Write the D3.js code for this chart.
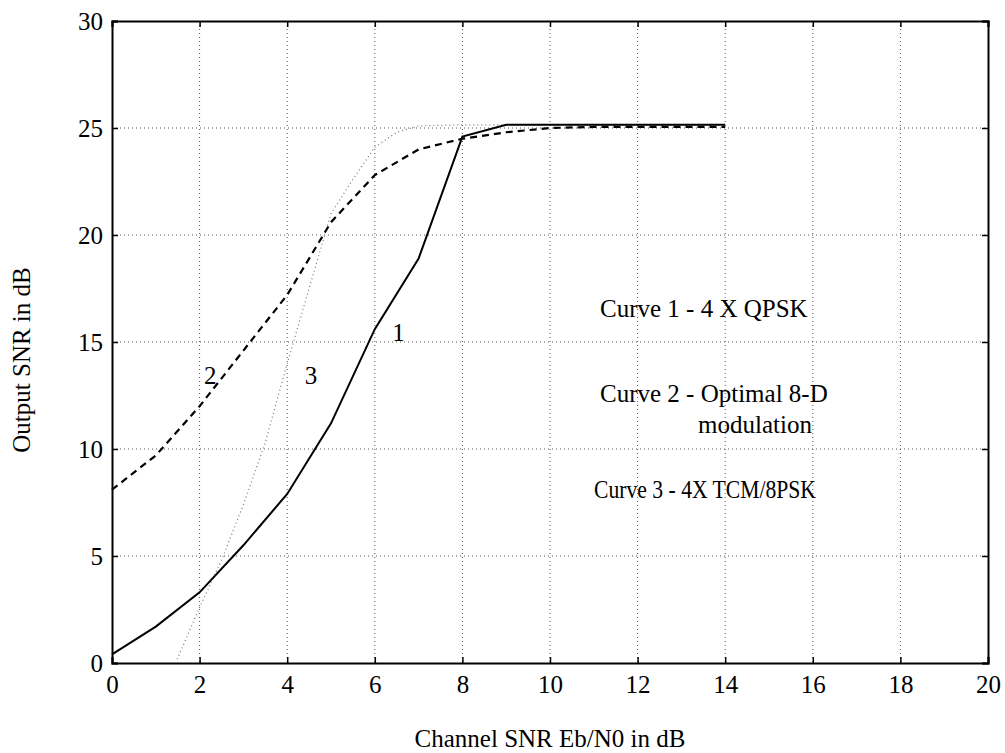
<!DOCTYPE html>
<html><head><meta charset="utf-8">
<script src="https://cdn.jsdelivr.net/npm/d3@7"></script>
<style>
body{margin:0;background:#fff;}
text{font-family:"Liberation Serif","Times New Roman",serif;fill:#000;}
</style></head><body>
<svg id="chart" width="1005" height="753"></svg>
<script>
const xTicks=[0,2,4,6,8,10,12,14,16,18,20];
const yTicks=[0,5,10,15,20,25,30];
const curve1X=[0,1,2,3,4,5,6,7,8,9,10,11,12,13,14];
const curve1Y=[0.4,1.7,3.3,5.5,7.9,11.2,15.6,18.9,24.6,25.15,25.15,25.15,25.15,25.15,25.15];
const curve2X=[0,1,2,3,4,5,6,7,8,9,10,11,12,13,14];
const curve2Y=[8.1,9.7,12.0,14.6,17.2,20.6,22.8,24.0,24.5,24.8,25.0,25.05,25.05,25.05,25.05];
const curve3X=[1.45,2,2.5,3,3.5,4,4.5,5,5.5,6,6.5,7,8,9,10,11,12,13,14];
const curve3Y=[0,2.6,4.8,7.4,10.3,14.0,17.5,21.0,22.6,24.1,24.8,25.1,25.15,25.15,25.15,25.15,25.15,25.15,25.15];
const curveLabels=["1","2","3"];
const curveLabelPos=[[6.4,15.3],[2.1,13.3],[4.4,13.3]];
const legendLines=["Curve 1 - 4 X QPSK","Curve 2 - Optimal 8-D","modulation","Curve 3 - 4X TCM/8PSK"];

const svg=d3.select("#chart");
const L=112,R=988,T=21,B=663;
const FS="25px";
const x=d3.scaleLinear().domain([0,20]).range([L,R]);
const y=d3.scaleLinear().domain([0,30]).range([B,T]);

// grid
const g=svg.append("g");
g.selectAll("line.vg").data(xTicks.slice(1,-1)).enter().append("line")
 .attr("x1",d=>x(d)).attr("x2",d=>x(d)).attr("y1",T).attr("y2",B)
 .attr("stroke","#555").attr("stroke-width",1).attr("stroke-dasharray","1,3");
g.selectAll("line.hg").data(yTicks.slice(1,-1)).enter().append("line")
 .attr("y1",d=>y(d)).attr("y2",d=>y(d)).attr("x1",L).attr("x2",R)
 .attr("stroke","#555").attr("stroke-width",1).attr("stroke-dasharray","1,3");

// axes
const xAxisB=d3.axisBottom(x).tickValues(xTicks).tickSize(-6).tickPadding(12);
const xAxisT=d3.axisTop(x).tickValues(xTicks).tickSize(-6).tickFormat("");
const yAxisL=d3.axisLeft(y).tickValues(yTicks).tickSize(-6).tickPadding(9);
const yAxisR=d3.axisRight(y).tickValues(yTicks).tickSize(-6).tickFormat("");
function style(sel){sel.selectAll("path").attr("stroke","#000").attr("stroke-width",2);
 sel.selectAll("line").attr("stroke","#000").attr("stroke-width",1.5);
 sel.selectAll("text").style("font-family","'Liberation Serif',serif").style("font-size",FS).attr("fill","#000");}
svg.append("g").attr("transform",`translate(0,${B})`).call(xAxisB).call(style);
svg.append("g").attr("transform",`translate(0,${T})`).call(xAxisT).call(style);
svg.append("g").attr("transform",`translate(${L},0)`).call(yAxisL).call(style);
svg.append("g").attr("transform",`translate(${R},0)`).call(yAxisR).call(style);

const line=d3.line().x(d=>x(d[0])).y(d=>y(d[1]));
const c1=curve1X.map((v,i)=>[v,curve1Y[i]]);
const c2=curve2X.map((v,i)=>[v,curve2Y[i]]);
const c3=curve3X.map((v,i)=>[v,curve3Y[i]]);
svg.append("path").datum(c3).attr("d",line).attr("fill","none").attr("stroke","#777").attr("stroke-width",1.2).attr("stroke-dasharray","1,3");
svg.append("path").datum(c2).attr("d",line).attr("fill","none").attr("stroke","#000").attr("stroke-width",2.2).attr("stroke-dasharray","7,5");
svg.append("path").datum(c1).attr("d",line).attr("fill","none").attr("stroke","#000").attr("stroke-width",2);

svg.selectAll("text.cl").data(curveLabels).enter().append("text")
 .attr("x",(d,i)=>x(curveLabelPos[i][0])).attr("y",(d,i)=>y(curveLabelPos[i][1]))
 .attr("dominant-baseline","middle").style("font-size",FS).text(d=>d);

const leg=[[600,317],[600,402],[698,433],[594,498]];
svg.selectAll("text.lg").data(legendLines).enter().append("text")
 .attr("x",(d,i)=>leg[i][0]).attr("y",(d,i)=>leg[i][1]).style("font-size",FS).text(d=>d)
 .each(function(d,i){ if(i===3) d3.select(this).attr("textLength",222).attr("lengthAdjust","spacingAndGlyphs"); });

svg.append("text").attr("x",550).attr("y",747).attr("text-anchor","middle").style("font-size",FS).text("Channel SNR Eb/N0 in dB");
svg.append("text").attr("transform","translate(30,360) rotate(-90)").attr("text-anchor","middle").style("font-size",FS).text("Output SNR in dB");
</script></body></html>
